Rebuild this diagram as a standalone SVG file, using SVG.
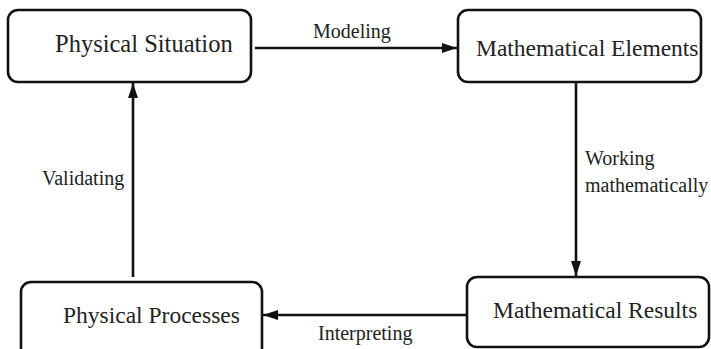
<svg xmlns="http://www.w3.org/2000/svg" width="711" height="349" viewBox="0 0 711 349">
<defs>
<marker id="ah" markerWidth="15" markerHeight="10" refX="15" refY="5" orient="auto" markerUnits="userSpaceOnUse">
<path d="M0,0 L15,5 L0,10 Z" fill="#111"/>
</marker>
<style>
.box{fill:#fff;stroke:#111;stroke-width:2.6}
.nt{font-family:"Liberation Serif","Times New Roman",serif;font-size:23.5px;fill:#222}
.lt{font-family:"Liberation Serif","Times New Roman",serif;font-size:20px;fill:#222}
.cn{stroke:#111;stroke-width:2.6;fill:none}
</style>
</defs>
<rect width="711" height="349" fill="#fff"/>
<g id="connectors">
<line class="cn" x1="255" y1="48" x2="457" y2="48" marker-end="url(#ah)"/>
<text class="lt" x="313" y="38">Modeling</text>
<line class="cn" x1="576" y1="80" x2="576" y2="276" marker-end="url(#ah)"/>
<text class="lt" x="585" y="165">Working</text>
<text class="lt" x="585" y="192">mathematically</text>
<line class="cn" x1="467" y1="315" x2="263" y2="315" marker-end="url(#ah)"/>
<text class="lt" x="318" y="340">Interpreting</text>
<line class="cn" x1="133" y1="277" x2="133" y2="83" marker-end="url(#ah)"/>
<text class="lt" x="42" y="185">Validating</text>
</g>
<g id="physical-situation">
<rect class="box" x="8" y="10" width="243" height="72" rx="10"/>
<text class="nt" x="55" y="52" style="font-size:24.5px">Physical Situation</text>
</g>
<g id="mathematical-elements">
<rect class="box" x="458" y="10" width="243" height="72" rx="10"/>
<text class="nt" x="476" y="56">Mathematical Elements</text>
</g>
<g id="mathematical-results">
<rect class="box" x="467" y="277" width="242" height="70" rx="10"/>
<text class="nt" x="493" y="318">Mathematical Results</text>
</g>
<g id="physical-processes">
<rect class="box" x="21" y="282" width="241" height="80" rx="10"/>
<text class="nt" x="63" y="323">Physical Processes</text>
</g>
</svg>
